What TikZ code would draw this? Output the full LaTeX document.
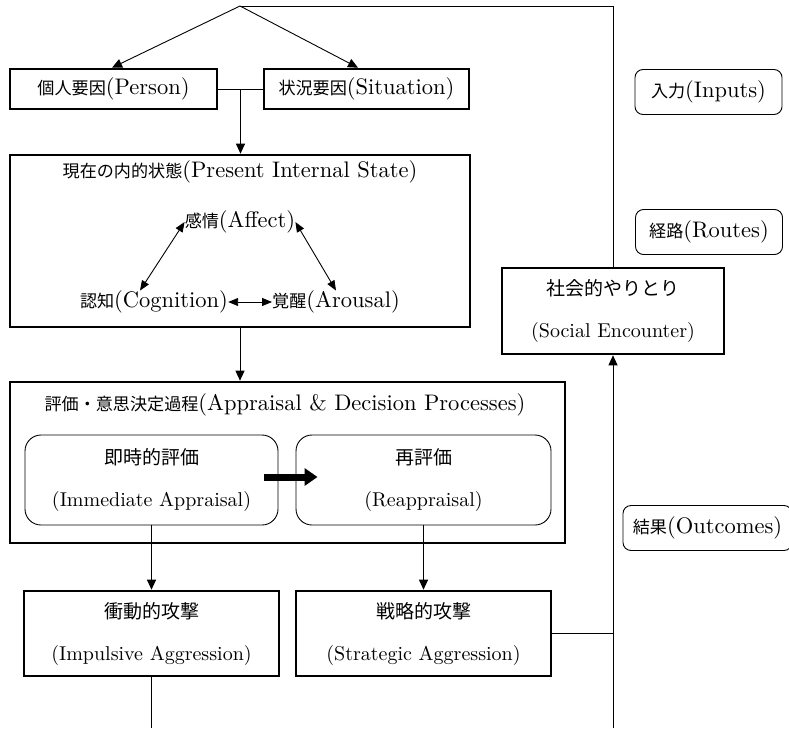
\documentclass[tikz,border=0pt]{standalone}
\usepackage{fontspec}
\setmainfont{lmroman10-regular.otf}
\newfontfamily\jp[Scale=0.76]{Noto Sans CJK JP}
\newfontfamily\jpb[Scale=0.95]{Noto Sans CJK JP}
\usetikzlibrary{arrows.meta,calc}
\begin{document}
\begin{tikzpicture}[x=1pt,y=-1pt,
  every node/.style={font=\fontsize{22.5}{27}\selectfont,inner sep=0pt},
  stage/.style={draw,line width=2.6pt},
  phase/.style={draw,line width=0.9pt,rounded corners=16pt,minimum height=90pt},
  tag/.style={draw,line width=0.9pt,rounded corners=8pt,minimum width=147pt,minimum height=45pt},
  pair/.style={align=center,font=\fontsize{20}{42}\selectfont},
  link/.style={line width=0.9pt},
  arr/.style={link,-{Triangle[length=10pt,width=9pt]}},
  darr/.style={link,{Triangle[length=10pt,width=8pt]}-{Triangle[length=10pt,width=8pt]}},
  bigarr/.style={line width=7pt,-{Triangle[length=13pt,width=17pt]}}]
\useasboundingbox (0,0) rectangle (789,728);
% inputs
\node[stage,minimum width=207pt,minimum height=40pt] (person) at (113.5,89) {{\jp 個人要因}(Person)};
\node[stage,minimum width=205pt,minimum height=40pt] (situation) at (366.5,89) {{\jp 状況要因}(Situation)};
% internal state
\node[stage,minimum width=460pt,minimum height=172pt] (present) at (240,241) {};
\node (ptitle) at (240,172) {{\jp 現在の内的状態}(Present Internal State)};
\node (affect) at (240,222) {{\jp 感情}(Affect)};
\node (cognition) at (154,302) {{\jp 認知}(Cognition)};
\node (arousal) at (336,302) {{\jp 覚醒}(Arousal)};
% appraisal
\node[stage,minimum width=555pt,minimum height=161pt] (appraisal) at (287.5,462.5) {};
\node (atitle) at (285,405) {{\jp 評価・意思決定過程}(Appraisal \& Decision Processes)};
\node[phase,pair,minimum width=253pt] (imm) at (151.5,480) {{\jpb 即時的評価}\\(Immediate Appraisal)};
\node[phase,pair,minimum width=255pt] (reap) at (423.5,480) {{\jpb 再評価}\\(Reappraisal)};
% outcomes
\node[stage,pair,minimum width=255pt,minimum height=85pt] (impulsive) at (151.5,633.5) {{\jpb 衝動的攻撃}\\(Impulsive Aggression)};
\node[stage,pair,minimum width=255pt,minimum height=85pt] (strategic) at (423.5,633.5) {{\jpb 戦略的攻撃}\\(Strategic Aggression)};
\node[stage,pair,minimum width=222pt,minimum height=86pt] (social) at (613,311) {{\jpb 社会的やりとり}\\(Social Encounter)};
% legend
\node[tag] (inputs) at (708.5,92) {{\jp 入力}(Inputs)};
\node[tag] (routes) at (709,232) {{\jp 経路}(Routes)};
\node[tag,minimum width=169pt] (outcomes) at (707.5,528) {{\jp 結果}(Outcomes)};
\coordinate (apex) at (240,6);
\coordinate (cut1) at (151.5,728);
\coordinate (cut2) at (613,728);
\coordinate (join) at ($(person.east)!0.5!(situation.west)$);
% connectors
\draw[arr] (apex) -- ([xshift=-1.5pt]person.north);
\draw[arr] (apex) -- ([xshift=-8.5pt]situation.north);
\draw[link] (person.east) -- (situation.west);
\draw[arr] (join) -- (join |- present.north);
\draw[darr] (affect.west) -- ([xshift=-14pt]cognition.north);
\draw[darr] (affect.east) -- (arousal.north);
\draw[darr] (cognition.east) -- (arousal.west);
\draw[arr] (present.south) -- (present.south |- appraisal.north);
\draw[bigarr] ([xshift=-14pt,yshift=3pt]imm.east) -- ([xshift=22pt,yshift=3pt]reap.west);
\draw[arr] (imm.south) -- (impulsive.north);
\draw[arr] (reap.south) -- (strategic.north);
\draw[link] (impulsive.south) -- (cut1);
\draw[link] (strategic.east) -- (strategic.east -| cut2);
\draw[arr] (cut2) -- (social.south);
\draw[link] (social.north) |- (apex);
\end{tikzpicture}
\end{document}
